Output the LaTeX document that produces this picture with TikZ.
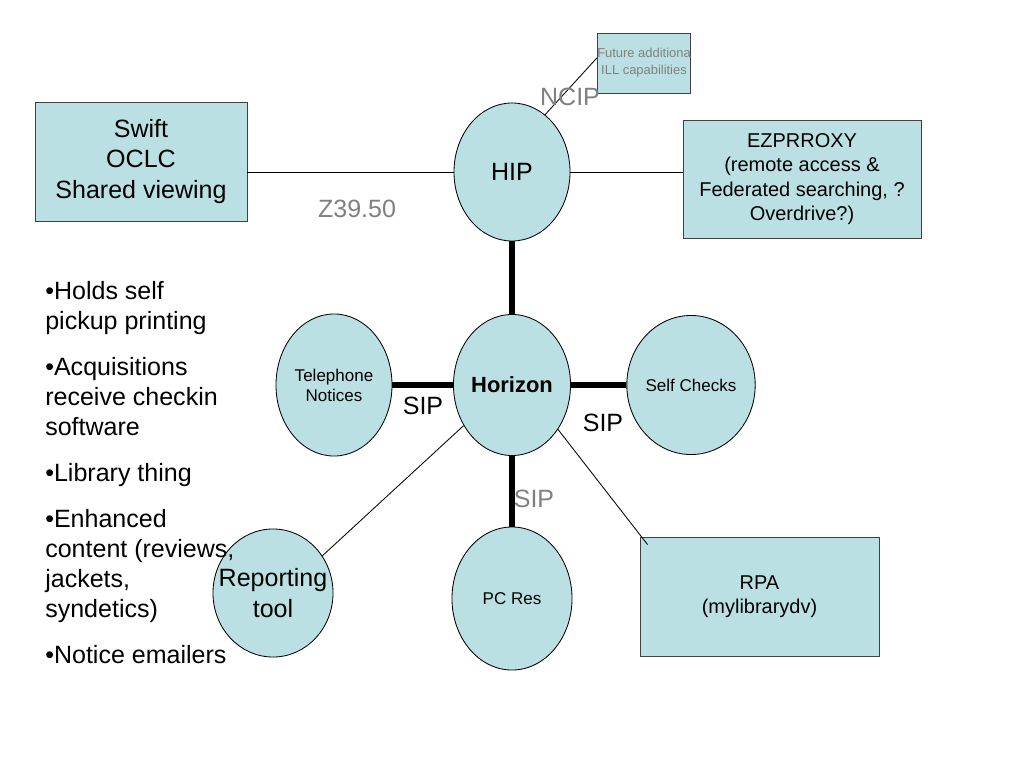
\documentclass[tikz,border=0pt]{standalone}
\usepackage{fontspec}
\setmainfont{Liberation Sans}
\usetikzlibrary{shapes.geometric}
\definecolor{fillc}{RGB}{187,224,228}
\definecolor{greyt}{RGB}{128,128,128}
\begin{document}
\begin{tikzpicture}[x=0.025cm,y=-0.025cm,
  ell/.style={ellipse,draw=black,line width=0.6pt,fill=fillc,inner sep=0pt,align=center},
  boxn/.style={rectangle,draw=black!75,line width=0.6pt,fill=fillc,inner sep=0pt,align=center},
  thin/.style={line width=0.6pt,draw=black},
  thick/.style={line width=4.3pt,draw=black},
  big/.style={font=\fontsize{17.8pt}{21.7pt}\selectfont},
  mid/.style={font=\fontsize{14.2pt}{17.4pt}\selectfont},
  small/.style={font=\fontsize{12.1pt}{14.2pt}\selectfont},
  tiny/.style={font=\fontsize{9.2pt}{12pt}\selectfont},
  lbl/.style={inner sep=0pt},
  bul/.style={inner sep=0pt,anchor=base west,font=\fontsize{17.8pt}{21.7pt}\selectfont}]
\useasboundingbox[fill=white] (0,0) rectangle (1024,768);

% boxes
\node[boxn,big,minimum width=5.3cm,minimum height=2.975cm] (swift) at (141,161.5) {Swift\\OCLC\\Shared viewing};
\node[boxn,mid,minimum width=5.95cm,minimum height=2.95cm] (ez) at (802,179) {EZPRROXY\\(remote access \&\\Federated searching, ?\\Overdrive?)};
\node[boxn,tiny,text=greyt,minimum width=2.3cm,minimum height=1.5cm] (future) at (644,63) {Future additiona\\ILL capabilities};
\node[boxn,mid,minimum width=5.975cm,minimum height=2.975cm] (rpa) at (759.5,596.5) {RPA\\(mylibrarydv)};

% ellipses
\node[ell,big,minimum width=2.9cm,minimum height=3.45cm] (hip) at (512,172) {HIP};
\node[ell,minimum width=2.925cm,minimum height=3.525cm,font=\fontsize{15.6pt}{18pt}\selectfont\bfseries] (horizon) at (512,385) {Horizon};
\node[ell,small,minimum width=2.9cm,minimum height=3.55cm] (tel) at (334,385) {Telephone\\Notices};
\node[ell,small,minimum width=2.9cm,minimum height=3.475cm] (self) at (691,385) {Self Checks};
\node[ell,small,minimum width=3.0cm,minimum height=3.575cm] (pcres) at (512,598.5) {PC Res};
\node[ell,minimum width=3.0cm,minimum height=3.2cm] (rep) at (273,593) {};
\node[lbl,big,align=center] (reptext) at (rep.center) {Reporting\\tool};

% connectors
\draw[thin] (hip.west) -- (hip.west -| swift.east);
\draw[thin] (hip.east) -- (hip.east -| ez.west);
\draw[thin] ([yshift=0.125cm]future.west) -- (hip.60);
\draw[thick] (hip.south) -- (horizon.north);
\draw[thick] (tel.east) -- (horizon.west);
\draw[thick] (horizon.east) -- (self.west);
\draw[thick] (horizon.south) -- (pcres.north);
\draw[thin] (horizon.220) -- (rep.37);
\coordinate (rpain) at ([shift={(8,8)}]rpa.north west);
\draw[thin] (horizon.-44) -- (rpain);

% labels
\node[lbl,big,text=greyt] (ncip) at (570,97) {NCIP};
\node[lbl,big,text=greyt] (z3950) at (357,209) {Z39.50};
\node[lbl,big] (sip1) at (423,406) {SIP};
\node[lbl,big] (sip2) at (603,423) {SIP};
\node[lbl,big,text=greyt] (sip3) at (534,499) {SIP};

% bullet list
\node[bul] (b1) at (45,299) {•Holds self};
\node[bul] (b2) at (45,329) {pickup printing};
\node[bul] (b3) at (45,375) {•Acquisitions};
\node[bul] (b4) at (45,405) {receive checkin};
\node[bul] (b5) at (45,435) {software};
\node[bul] (b6) at (45,481) {•Library thing};
\node[bul] (b7) at (45,527) {•Enhanced};
\node[bul] (b8) at (45,557) {content (reviews,};
\node[bul] (b9) at (45,587) {jackets,};
\node[bul] (b10) at (45,617) {syndetics)};
\node[bul] (b11) at (45,663) {•Notice emailers};
\end{tikzpicture}
\end{document}
